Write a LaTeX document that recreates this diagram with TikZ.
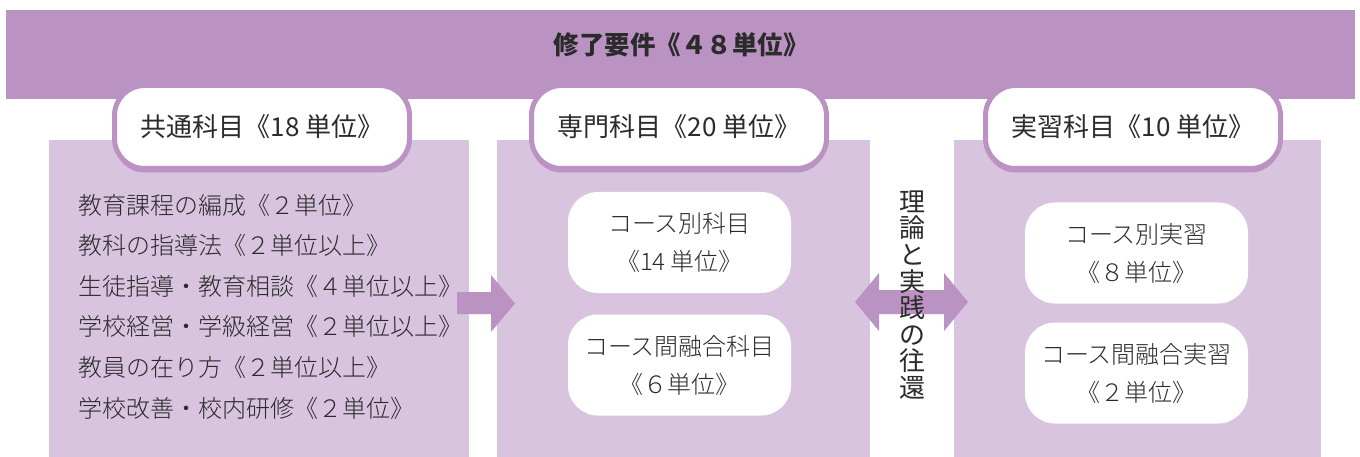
\documentclass[tikz,border=0pt]{standalone}
\usepackage{fontspec}
\setmainfont{Noto Sans CJK JP}
\newfontfamily\lightjp{Noto Sans CJK JP Light}
\definecolor{bandc}{HTML}{BB93C3}
\definecolor{panelc}{HTML}{D9C4E0}
\definecolor{inkc}{HTML}{2B2B2B}
\begin{document}
\begin{tikzpicture}[x=1pt,y=-1pt,
  every node/.style={inner sep=0pt,outer sep=0pt},
  band/.style={fill=bandc},
  panel/.style={fill=panelc},
  tab/.style={fill=white, draw=bandc, line width=5pt, rounded corners=30pt,
    minimum width=295pt, minimum height=83pt, text=inkc,
    font=\fontsize{26}{30}\selectfont,
    preaction={fill=bandc, transform canvas={yshift=-4pt}}},
  ibox/.style={fill=white, rounded corners=30pt, minimum width=223pt,
    minimum height=101pt, align=center, text=inkc,
    font=\lightjp\fontsize{24}{38}\selectfont},
  itext/.style={text=inkc, anchor=west, font=\lightjp\fontsize{24}{28}\selectfont},
  blockarrow/.style={fill=bandc}]
\useasboundingbox (0,0) rectangle (1360,457);
% banner
\node[band, minimum width=1349pt, minimum height=89pt] (banner) at (680.5,54.5) {};
\node[text=inkc, font=\bfseries\fontsize{25.5}{28}\selectfont] (btitle) at (681,45) {修了要件《４８単位》};
% panels
\node[panel, minimum width=420pt, minimum height=317pt] (p1) at (259,298.5) {};
\node[panel, minimum width=373pt, minimum height=317pt] (p2) at (683.5,298.5) {};
\node[panel, minimum width=367pt, minimum height=317pt] (p3) at (1137.5,298.5) {};
% tabs
\node[tab] (t1) at (262,127) {共通科目《18 単位》};
\node[tab] (t2) at (679,127) {専門科目《20 単位》};
\node[tab] (t3) at (1133,127) {実習科目《10 単位》};
% list
\node[itext] (l1) at (78,205) {教育課程の編成《２単位》};
\node[itext] (l2) at (78,245.6) {教科の指導法《２単位以上》};
\node[itext] (l3) at (78,286.2) {生徒指導・教育相談《４単位以上》};
\node[itext] (l4) at (78,326.8) {学校経営・学級経営《２単位以上》};
\node[itext] (l5) at (78,367.4) {教員の在り方《２単位以上》};
\node[itext] (l6) at (78,408) {学校改善・校内研修《２単位》};
% boxes
\node[ibox] (b1) at (679.5,242.5) {コース別科目\\《14 単位》};
\node[ibox] (b2) at (679.5,365) {コース間融合科目\\《６単位》};
\node[ibox] (b3) at (1136.5,253) {コース別実習\\《８単位》};
\node[ibox] (b4) at (1136.5,373) {コース間融合実習\\《２単位》};
% arrows
\fill[blockarrow] (457,292) -- (491,292) -- (491,275) -- (515,303.5) -- (491,332) -- (491,314) -- (457,314) -- cycle;
\fill[blockarrow] (855,302) -- (879,273) -- (879,290) -- (944,290) -- (944,273) -- (968,302) -- (944,331) -- (944,314) -- (879,314) -- (879,331) -- cycle;
\node[text=inkc, align=center, font=\fontsize{26}{26.6}\selectfont] (vt) at (912,295) {理\\論\\と\\実\\践\\の\\往\\還};
\end{tikzpicture}
\end{document}
